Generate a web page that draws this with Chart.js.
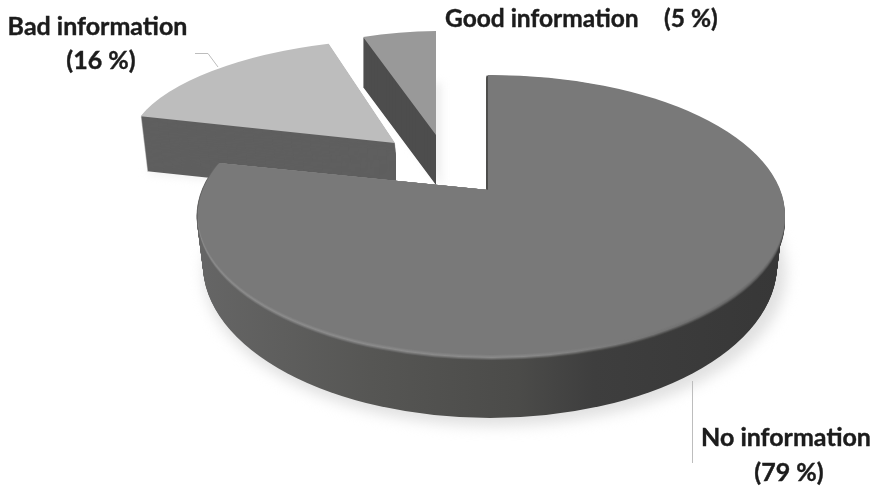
<!DOCTYPE html>
<html>
<head>
<meta charset="utf-8">
<title>Information shares</title>
<script src="https://cdn.jsdelivr.net/npm/chart.js@4"></script>
<style>
  html, body { margin: 0; padding: 0; background: #fff; }
  canvas { display: block; }
</style>
</head>
<body>
<canvas id="pieChart" width="876" height="489"></canvas>
<script>
const categories = ['No information', 'Bad information', 'Good information'];
const shares = [79, 16, 5];
const faceColors = ['#797979', '#bdbdbd', '#999999'];
const sideColors = ['#4e4e4c', '#5f5f5f', '#4d4d4d'];

// Fake camera for each slice: where the tip lands and how the unit circle is squashed
const sliceViews = [
    { x: 488, y: 190, a: 600, b: 0, c: 0, d: 234, depth: 63, lean: 0, wallRight: 876 },
    { x: 395, y: 143, a: 267, b: 1, c: -17, d: 104, depth: 55, lean: 0.12, wallRight: 396 },
    { x: 436, y: 135, a: 236, b: -3, c: 0, d: 104, depth: 50, lean: 0, wallRight: 876 }
];
// The big slice's rim, top face and bottom face
const rimTop = { x: 491.5, y: 215, rx: 293.5, ry: 140 };
const rimBottom = { x: 491, y: 265, rx: 287, ry: 153 };

function mix(c1, c2, t) {
    const out = c1.map((v, i) => Math.round(v + (c2[i] - v) * t));
    return 'rgb(' + out.join(',') + ')';
}

function drawSlice(ctx, arc, view, color, dx, dy) {
    const R = arc.outerRadius;
    const saved = arc.options;
    ctx.save();
    ctx.translate(view.x + dx, view.y + dy);
    ctx.transform(view.a / R, view.b / R, view.c / R, view.d / R, 0, 0);
    ctx.translate(-arc.x, -arc.y);
    arc.options = Object.create(saved, { backgroundColor: { value: color } });
    arc.draw(ctx);
    arc.options = saved;
    ctx.restore();
}

function drawMainLayer(ctx, arc, view, color, t, dx, dy) {
    ctx.save();
    ctx.beginPath();
    ctx.ellipse(
        rimTop.x + dx,
        rimTop.y + (rimBottom.y - rimTop.y) * t + dy,
        rimTop.rx + (rimBottom.rx - rimTop.rx) * t,
        rimTop.ry + (rimBottom.ry - rimTop.ry) * t,
        0, 0, Math.PI * 2
    );
    ctx.clip();
    drawSlice(ctx, arc, view, color, dx, t * 30);
    ctx.restore();
}

// Horizontal gradient given in page x, converted for the big slice's squashed space
function mainGradient(ctx, arc, view, stops) {
    const R = arc.outerRadius;
    const toLocal = px => arc.x + (px - view.x) * R / view.a;
    const g = ctx.createLinearGradient(toLocal(196), 0, toLocal(784), 0);
    stops.forEach(s => g.addColorStop(s[0], s[1]));
    return g;
}

const pie3d = {
    id: 'pie3d',
    beforeDatasetsDraw(chart) {
        const ctx = chart.ctx;
        const arcs = chart.getDatasetMeta(0).data;

        // small slices at the back first
        [2, 1].forEach(i => {
            const view = sliceViews[i];
            ctx.save();
            ctx.filter = 'blur(4px)';
            drawSlice(ctx, arcs[i], view, '#efefef', 6, view.depth + 2);
            ctx.restore();
            ctx.save();
            ctx.beginPath();
            ctx.rect(0, 0, view.wallRight, chart.height);
            ctx.clip();
            for (let dy = view.depth; dy > 0; dy--) {
                drawSlice(ctx, arcs[i], view, sideColors[i], dy * view.lean, dy);
            }
            ctx.restore();
            drawSlice(ctx, arcs[i], view, faceColors[i], 0, 0);
        });

        // big slice: soft ground shadow, wall, bevel, face
        const view = sliceViews[0];
        const arc = arcs[0];
        ctx.save();
        ctx.beginPath();
        ctx.rect(0, rimTop.y + 15, chart.width, chart.height);
        ctx.clip();
        ctx.filter = 'blur(7px)';
        ctx.beginPath();
        ctx.ellipse(rimBottom.x + 4, rimBottom.y + 8, rimBottom.rx + 4, rimBottom.ry, 0, 0, Math.PI * 2);
        ctx.fillStyle = '#e0e0e0';
        ctx.fill();
        ctx.restore();

        const wall = mainGradient(ctx, arc, view, [
            [0, '#666666'], [0.3, '#565654'], [0.55, '#4b4b49'], [0.68, '#3e3e3e'], [1, '#373737']
        ]);
        for (let i = view.depth; i > 0; i--) {
            drawMainLayer(ctx, arc, view, wall, i / view.depth, -1.5, 0);
        }

        // bevel between wall and face, bright on the left, gone on the right
        const wallRGB = [[102, 102, 102], [75, 75, 73], [55, 55, 55]];
        const hiRGB = [[140, 140, 140], [138, 138, 138], [96, 96, 96]];
        const topRGB = [121, 121, 121];
        for (let k = 6; k > 0; k--) {
            const w = k > 3 ? (6 - k) / 3 : 1;
            const f = k < 3 ? (3 - k) / 3 : 0;
            const col = j => {
                const base = mix(wallRGB[j], hiRGB[j], w).match(/\d+/g).map(Number);
                return mix(base, topRGB, f);
            };
            const g = mainGradient(ctx, arc, view, [[0, col(0)], [0.55, col(1)], [1, col(2)]]);
            drawMainLayer(ctx, arc, view, g, 0, 0, k);
        }
        drawMainLayer(ctx, arc, view, faceColors[0], 0, 0, 0);

        return false;
    },
    afterDraw(chart) {
        const ctx = chart.ctx;
        ctx.save();

        // leader lines
        ctx.strokeStyle = '#bdbdbd';
        ctx.lineWidth = 1;
        ctx.beginPath();
        ctx.moveTo(195, 53.5);
        ctx.lineTo(208, 53.5);
        ctx.lineTo(218, 67);
        ctx.moveTo(692.5, 381);
        ctx.lineTo(692.5, 463);
        ctx.stroke();

        // labels, with a hairline stroke since the source face is heavier than Lato Bold
        const label = (text, x, y) => {
            ctx.fillText(text, x, y);
            ctx.strokeText(text, x, y);
        };
        ctx.fillStyle = '#1c1c1c';
        ctx.strokeStyle = '#1c1c1c';
        ctx.lineWidth = 0.4;
        ctx.font = 'bold 25px Lato';
        ctx.textBaseline = 'alphabetic';
        ctx.textAlign = 'center';
        label(categories[1], 97.5, 35);
        label('(' + shares[1] + ' %)', 101, 69);
        label(categories[0], 786, 446);
        label('(' + shares[0] + ' %)', 789, 481);
        ctx.textAlign = 'left';
        ctx.font = 'bold 24.5px Lato';
        label(categories[2], 445, 27);
        label('(' + shares[2] + ' %)', 664, 27);
        ctx.restore();
    }
};

new Chart(document.getElementById('pieChart'), {
    type: 'pie',
    data: {
        labels: categories,
        datasets: [{
            data: shares,
            backgroundColor: faceColors,
            borderWidth: 0,
            hoverOffset: 0
        }]
    },
    options: {
        responsive: false,
        animation: false,
        events: [],
        plugins: {
            legend: { display: false },
            tooltip: { enabled: false }
        }
    },
    plugins: [pie3d]
});
</script>
</body>
</html>
